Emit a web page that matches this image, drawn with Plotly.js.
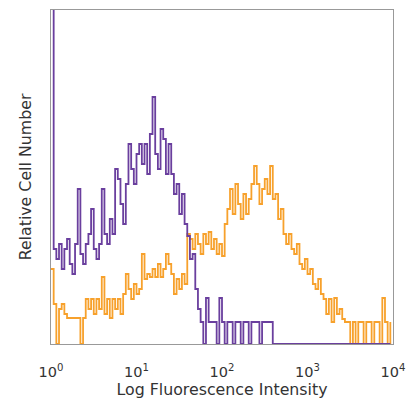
<!DOCTYPE html>
<html>
<head>
<meta charset="utf-8">
<script src="https://cdn.plot.ly/plotly-3.0.1.min.js"></script>
<style>html,body{margin:0;padding:0;background:#fff;}#chart{width:409px;height:400px;}</style>
</head>
<body>
<div id="chart"></div>
<script>
// 128 log channels spanning 10^0 .. 10^4 (bin left edges)
const channelCount = 128;
const decades = 4;

// Relative cell counts per channel
const isotypeCounts = [
  400, 95, 85, 100, 75, 95, 105, 80, 70, 100,
  155, 90, 80, 100, 110, 135, 95, 85, 100, 155,
  110, 100, 125, 110, 175, 165, 140, 120, 160, 200,
  175, 160, 190, 200, 180, 200, 170, 210, 247, 190,
  175, 215, 205, 170, 200, 170, 150, 160, 130, 150,
  120, 108, 85, 90, 55, 35, 22, 0, 46, 22,
  22, 22, 0, 46, 22, 0, 22, 22, 0, 22,
  22, 0, 22, 22, 0, 22, 22, 22, 0, 22,
  22, 22, 22, 0, 0, 0, 0, 0, 0, 0,
  0, 0, 0, 0, 0, 0, 0, 0, 0, 0,
  0, 0, 0, 0, 0, 0, 0, 0, 0, 0,
  0, 0, 0, 0, 0, 0, 0, 0, 0, 0,
  0, 0, 0, 0, 0, 0, 0, 0
];

const stainedCounts = [
  75, 40, 0, 35, 40, 30, 26, 26, 26, 26,
  26, 0, 26, 45, 35, 45, 30, 45, 35, 67,
  30, 45, 26, 45, 35, 45, 30, 50, 70, 55,
  45, 60, 50, 55, 90, 65, 70, 67, 75, 67,
  80, 67, 75, 90, 80, 70, 50, 65, 55, 70,
  60, 110, 105, 95, 110, 100, 90, 110, 100, 112,
  95, 105, 90, 100, 88, 120, 135, 155, 130, 160,
  140, 125, 150, 130, 145, 160, 178, 160, 140, 155,
  165, 150, 178, 145, 150, 125, 135, 110, 100, 110,
  95, 90, 100, 80, 75, 85, 70, 75, 60, 55,
  65, 50, 45, 30, 45, 22, 46, 30, 35, 25,
  22, 22, 0, 22, 0, 22, 22, 0, 22, 22,
  0, 22, 22, 0, 46, 22, 0, 22
];

const tickValues = [1, 10, 100, 1000, 10000];
const tickLabels = ["10<sup>0</sup>", "10<sup>1</sup>", "10<sup>2</sup>", "10<sup>3</sup>", "10<sup>4</sup>"];

const channels = [];
for (let i = 0; i < channelCount; i++) channels.push(Math.pow(10, i * decades / channelCount));

const font = "DejaVu Sans, Verdana, sans-serif";

const traces = [
  {x: channels, y: stainedCounts, type: "scatter", mode: "lines",
   line: {shape: "hv", color: "#f7a12c", width: 1.8}, hoverinfo: "skip"},
  {x: channels, y: isotypeCounts, type: "scatter", mode: "lines",
   line: {shape: "hv", color: "#6a3f9e", width: 1.8}, hoverinfo: "skip"}
];

const layout = {
  width: 409, height: 400,
  margin: {l: 51, r: 16, t: 10, b: 56},
  paper_bgcolor: "#fff", plot_bgcolor: "#fff",
  showlegend: false,
  font: {family: font, size: 14, color: "#333"},
  xaxis: {
    type: "log", range: [0, 4],
    tickvals: tickValues, ticktext: tickLabels,
    ticks: "outside", ticklen: 15, tickcolor: "rgba(0,0,0,0)",
    showgrid: false, zeroline: false,
    showline: true, linecolor: "#999", linewidth: 1, mirror: true,
    tickfont: {family: font, size: 14.5, color: "#333"},
    title: {text: "Log Fluorescence Intensity", font: {family: font, size: 15.8, color: "#333"}, standoff: 1}
  },
  yaxis: {
    range: [0, 334],
    showticklabels: false, ticks: "",
    showgrid: false, zeroline: false,
    showline: true, linecolor: "#999", linewidth: 1, mirror: true,
    title: {text: "Relative Cell Number", font: {family: font, size: 15.8, color: "#333"}, standoff: 14}
  }
};

Plotly.newPlot("chart", traces, layout, {staticPlot: true, displayModeBar: false});
</script>
</body>
</html>
